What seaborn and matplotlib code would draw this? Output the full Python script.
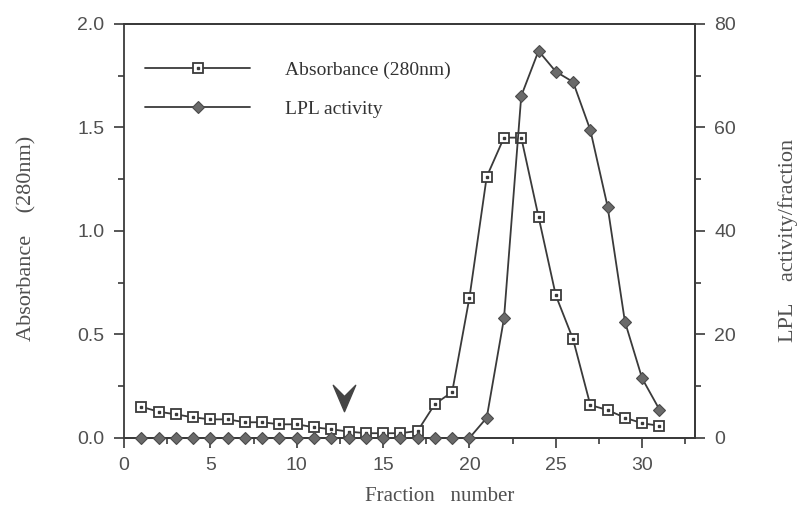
import numpy as np
import pandas as pd
import matplotlib
matplotlib.use("Agg")
import matplotlib.pyplot as plt
from matplotlib.path import Path
from matplotlib.ticker import MultipleLocator
import seaborn as sns

# fraction numbers and the two measured series
fractions = list(range(1, 32))
absorbance_280 = [0.151, 0.127, 0.114, 0.100, 0.090, 0.090, 0.076, 0.076, 0.066, 0.066,
                  0.052, 0.042, 0.031, 0.023, 0.023, 0.023, 0.034, 0.164, 0.222, 0.678,
                  1.262, 1.451, 1.451, 1.069, 0.689, 0.477, 0.159, 0.135, 0.098, 0.071,
                  0.059]
lpl_activity = [0, 0, 0, 0, 0, 0, 0, 0, 0, 0,
                0, 0, 0, 0, 0, 0, 0, 0, 0, 0,
                3.9, 23.1, 66.1, 74.8, 70.8, 68.8, 59.5, 44.7, 22.5, 11.5,
                5.5]

# arrowhead marking where elution started
arrow_fraction = 12.76
arrow_level = 0.192

x_ticks = [0, 5, 10, 15, 20, 25, 30]
left_ticks = [0.0, 0.5, 1.0, 1.5, 2.0]
right_ticks = [0, 20, 40, 60, 80]

df = pd.DataFrame({"fraction": fractions, "abs": absorbance_280, "lpl": lpl_activity})

sns.set_style("ticks")
serif = ["Liberation Serif", "DejaVu Serif"]
sans = ["Liberation Sans", "DejaVu Sans"]
plt.rcParams["font.family"] = sans

ink = "#3a3a3a"
label_col = "#505050"

fig = plt.figure(figsize=(8.02, 5.16), dpi=100)
ax = fig.add_axes([0.1546, 0.1512, 0.712, 0.8023])
ax2 = ax.twinx()

# absorbance: open squares with a dot in the middle
sns.lineplot(data=df, x="fraction", y="abs", ax=ax, color=ink, lw=1.3,
             marker="s", markersize=7, markerfacecolor="white",
             markeredgecolor=ink, markeredgewidth=1.3, zorder=3, clip_on=False)
ax.plot(df["fraction"], df["abs"], ls="none", marker="s", markersize=1.8,
        color=ink, zorder=4, clip_on=False)

# LPL activity: filled grey diamonds
sns.lineplot(data=df, x="fraction", y="lpl", ax=ax2, color=ink, lw=1.3,
             marker="D", markersize=6, markerfacecolor="#6a6a6a",
             markeredgecolor="#4a4a4a", markeredgewidth=0.8, zorder=3, clip_on=False)

# arrowhead
chevron = Path([(-0.85, 1), (0, -1), (0.85, 1), (0, 0.15), (-0.85, 1)],
               [Path.MOVETO, Path.LINETO, Path.LINETO, Path.LINETO, Path.CLOSEPOLY])
ax.plot([arrow_fraction], [arrow_level], ls="none", marker=chevron,
        markersize=19, color="#444444", zorder=5)

ax.set_xlim(0, 33.06)
ax.set_ylim(0, 2.0)
ax2.set_ylim(0, 80)
ax.set_xticks(x_ticks)
ax.set_yticks(left_ticks)
ax2.set_yticks(right_ticks)
ax.set_xticklabels([str(v) for v in x_ticks])
ax.set_yticklabels([f"{v:.1f}" for v in left_ticks])
ax2.set_yticklabels([str(v) for v in right_ticks])
ax.xaxis.set_minor_locator(MultipleLocator(2.5))
ax.yaxis.set_minor_locator(MultipleLocator(0.25))
ax2.yaxis.set_minor_locator(MultipleLocator(10))

for a in (ax, ax2):
    for s in a.spines.values():
        s.set_color(ink)
        s.set_linewidth(1.3)
    a.tick_params(which="major", direction="out", length=7, width=1.2,
                  color=ink, labelsize=14, labelcolor=label_col, pad=7)
    a.tick_params(which="minor", direction="out", length=4, width=1.2, color=ink)
ax.spines["top"].set_visible(True)
ax.spines["right"].set_visible(True)
ax2.spines["top"].set_visible(True)
ax2.spines["left"].set_visible(False)

ax.set_xlabel("Fraction   number", family=serif, fontsize=15, color=label_col)
ax.set_ylabel("Absorbance    (280nm)", family=serif, fontsize=16, color=label_col)
ax2.set_ylabel("LPL    activity/fraction", family=serif, fontsize=16, color=label_col,
               rotation=90)
for lab in (ax.xaxis.label, ax.yaxis.label, ax2.yaxis.label):
    lab.set_verticalalignment("center")
    lab.set_horizontalalignment("center")
ax.xaxis.set_label_coords(0.553, -0.1425)
ax.yaxis.set_label_coords(-0.170, 0.483)
ax2.yaxis.set_label_coords(1.163, 0.476)

h_abs = (plt.Line2D([], [], color=ink, lw=1.3, marker="s", markersize=7,
                    markerfacecolor="white", markeredgecolor=ink, markeredgewidth=1.3),
         plt.Line2D([], [], ls="none", marker="s", markersize=1.8, color=ink))
h_lpl = plt.Line2D([], [], color=ink, lw=1.3, marker="D", markersize=6,
                   markerfacecolor="#6a6a6a", markeredgecolor="#4a4a4a",
                   markeredgewidth=0.8)
ax.legend([h_abs, h_lpl], ["Absorbance (280nm)", "LPL activity"],
          loc="upper left", bbox_to_anchor=(0.037, 0.9105), borderaxespad=0,
          borderpad=0, frameon=False, handlelength=5.4, handletextpad=1.8,
          labelspacing=1.1, prop={"family": serif, "size": 14},
          labelcolor="#333333")

fig.savefig("out.png", dpi=100)
